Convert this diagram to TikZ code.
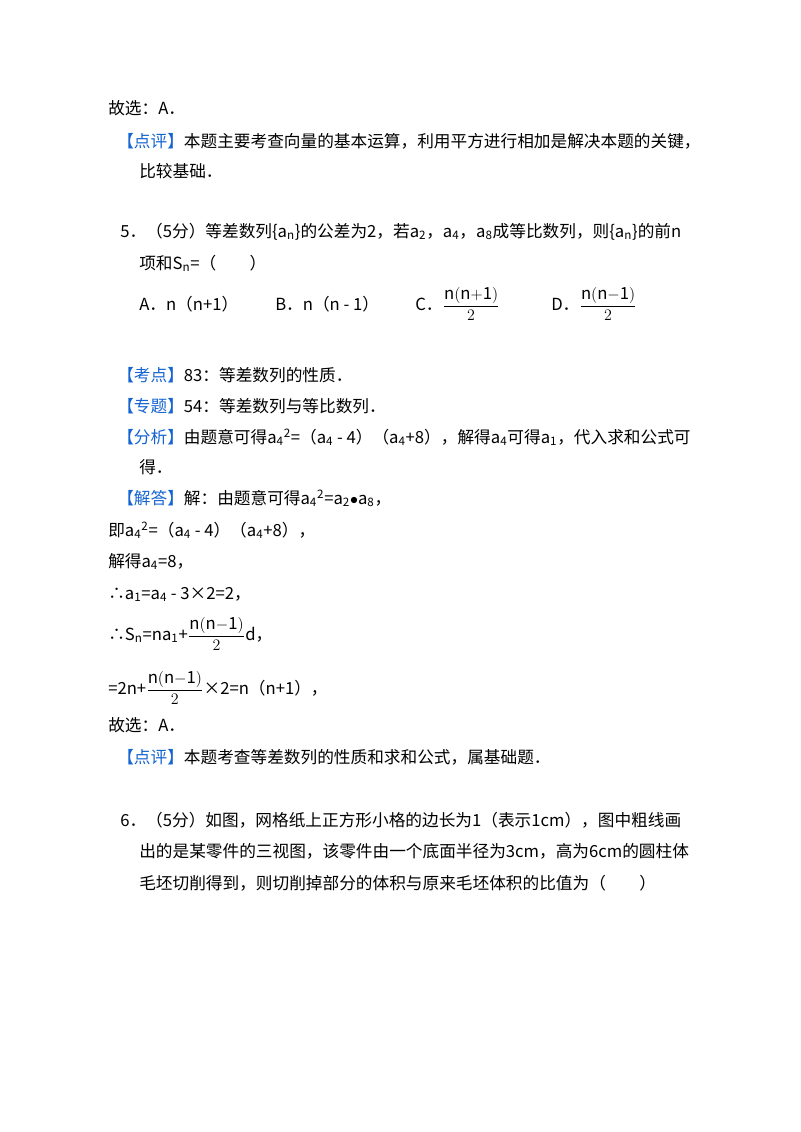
\documentclass[tikz,border=0pt]{standalone}
\usepackage{fontspec}
\setmainfont{Noto Sans CJK SC}
\usepackage{amsmath}
\definecolor{kb}{RGB}{20,100,210}
\newcommand{\kw}[1]{\textcolor{kb}{【#1】}}
\newcommand{\sbs}[1]{\textsubscript{#1}}
\newcommand{\sps}[1]{\textsuperscript{#1}}
\newcommand{\fr}[1]{$\dfrac{\mathrm{#1}}{2}$}
\begin{document}
\begin{tikzpicture}[x=0.75pt,y=-0.75pt,
  t/.style={anchor=base west,inner sep=0pt,font=\fontsize{12.5}{14}\selectfont}]
\useasboundingbox[fill=white] (0,0) rectangle (800,1132);
\node[t] (l1) at (108,114) {故选：A．};
\node[t] (l2) at (117,147) {\kw{点评}本题主要考查向量的基本运算，利用平方进行相加是解决本题的关键，};
\node[t] (l3) at (139,177) {比较基础．};
\node[t] (l4) at (120,237) {5．（5分）等差数列\{a\sbs{n}\}的公差为2，若a\sbs{2}，a\sbs{4}，a\sbs{8}成等比数列，则\{a\sbs{n}\}的前n};
\node[t] (l5) at (139,269) {项和S\sbs{n}=（\quad\quad）};
\node[t] (oa) at (139,310) {A．n（n+1）};
\node[t] (ob) at (275,310) {B．n（n - 1）};
\node[t] (oc) at (415,310) {C．\fr{n(n{+}1)}};
\node[t] (od) at (551,310) {D．\fr{n(n{-}1)}};
\node[t] (l6) at (117,381) {\kw{考点}83：等差数列的性质．};
\node[t] (l7) at (117,412) {\kw{专题}54：等差数列与等比数列．};
\node[t] (l8) at (117,443) {\kw{分析}由题意可得a\sbs{4}\sps{2}=（a\sbs{4} - 4）（a\sbs{4}+8），解得a\sbs{4}可得a\sbs{1}，代入求和公式可};
\node[t] (l9) at (139,473) {得．};
\node[t] (l10) at (117,504) {\kw{解答}解：由题意可得a\sbs{4}\sps{2}=a\sbs{2}$\bullet$a\sbs{8}，};
\node[t] (l11) at (108,536) {即a\sbs{4}\sps{2}=（a\sbs{4} - 4）（a\sbs{4}+8），};
\node[t] (l12) at (108,567) {解得a\sbs{4}=8，};
\node[t] (l13) at (108,599) {∴a\sbs{1}=a\sbs{4} - 3×2=2，};
\node[t] (l14) at (108,640) {∴S\sbs{n}=na\sbs{1}+\fr{n(n{-}1)}d，};
\node[t] (l15) at (108,694) {=2n+\fr{n(n{-}1)}×2=n（n+1），};
\node[t] (l16) at (108,731) {故选：A．};
\node[t] (l17) at (117,763) {\kw{点评}本题考查等差数列的性质和求和公式，属基础题．};
\node[t] (l18) at (120,826) {6．（5分）如图，网格纸上正方形小格的边长为1（表示1cm），图中粗线画};
\node[t] (l19) at (139,857) {出的是某零件的三视图，该零件由一个底面半径为3cm，高为6cm的圆柱体};
\node[t] (l20) at (139,889) {毛坯切削得到，则切削掉部分的体积与原来毛坯体积的比值为（\quad\quad）};
\end{tikzpicture}
\end{document}
